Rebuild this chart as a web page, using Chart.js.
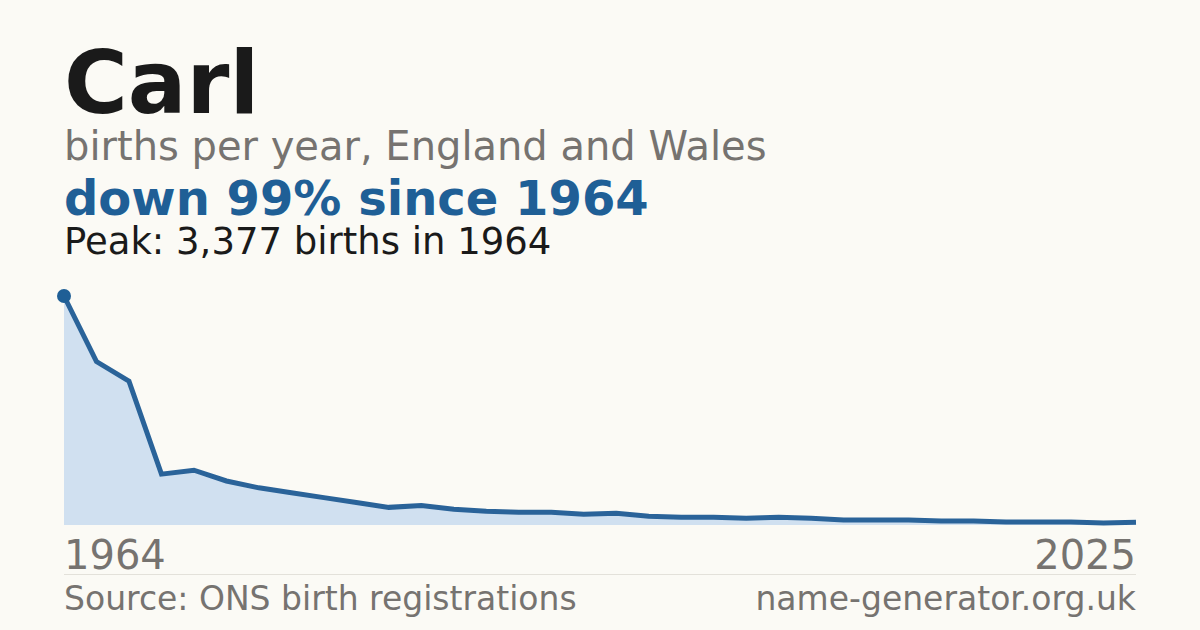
<!DOCTYPE html>
<html><head><meta charset="utf-8">
<script src="https://cdn.jsdelivr.net/npm/chart.js@4"></script>
<style>
body{margin:0;background:#fbfaf5;width:1200px;height:630px;overflow:hidden;font-family:"DejaVu Sans",sans-serif;position:relative}
.t{position:absolute;left:64px;white-space:nowrap}
</style></head><body>
<div class="t" style="top:32px;font-size:87px;font-weight:bold;color:#1a1a1a">Carl</div>
<div class="t" style="top:123px;font-size:40px;color:#767370">births per year, England and Wales</div>
<div class="t" style="top:170px;font-size:48px;font-weight:bold;color:#1f5f96">down 99% since 1964</div>
<div class="t" style="top:220px;font-size:37px;color:#1a1a1a">Peak: 3,377 births in 1964</div>
<div style="position:absolute;left:54px;top:286px;width:1092px;height:246px"><canvas id="c"></canvas></div>
<div class="t" style="top:532px;font-size:40px;color:#767370">1964</div>
<div style="position:absolute;right:64px;top:532px;font-size:40px;color:#767370">2025</div>
<div style="position:absolute;left:64px;top:574px;width:1072px;border-top:1px solid #e3e1da"></div>
<div class="t" style="top:579px;font-size:33px;color:#767370">Source: ONS birth registrations</div>
<div style="position:absolute;right:64px;top:579px;font-size:33px;color:#767370">name-generator.org.uk</div>
<script>
const labels=[];for(let i=0;i<34;i++)labels.push(String(Math.round(1964+i*61/33)));
const births=[3377,2410,2121,750,808,649,548,476,404,332,260,289,231,202,188,188,159,173,130,115,115,100,115,100,72,72,72,58,58,43,43,43,29,40];
new Chart(document.getElementById('c'),{type:'line',
data:{labels,datasets:[{data:births,borderColor:'#2a6399',borderWidth:5,fill:true,backgroundColor:'#d0e0f0',tension:0,clip:false,
pointRadius:births.map((v,i)=>i===0?7:0),pointBackgroundColor:'#1f5f96',pointBorderWidth:0}]},
options:{responsive:true,maintainAspectRatio:false,animation:false,layout:{padding:{left:10,right:10,top:10,bottom:2}},
plugins:{legend:{display:false},tooltip:{enabled:false}},
scales:{x:{display:false,offset:false},y:{display:false,min:0,max:3377}}}});
</script></body></html>
